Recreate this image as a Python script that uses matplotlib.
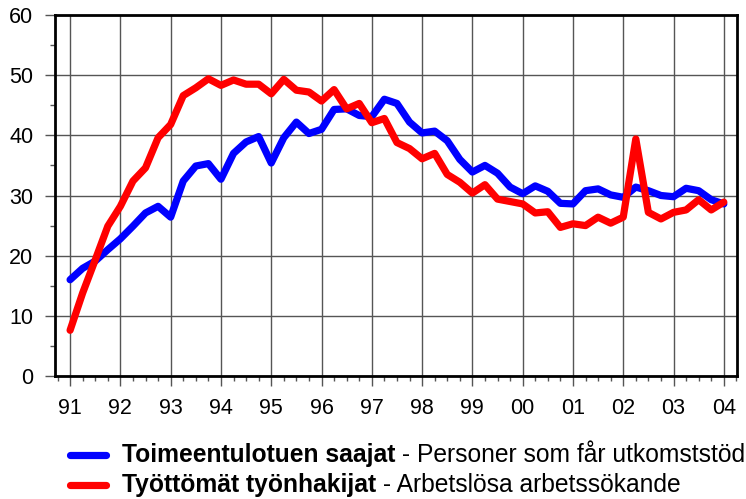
import matplotlib
matplotlib.use('Agg')
import matplotlib.pyplot as plt
from matplotlib import font_manager
from matplotlib.lines import Line2D
from matplotlib.ticker import MultipleLocator

# ---- data ----
year_labels = ['91', '92', '93', '94', '95', '96', '97', '98', '99', '00', '01', '02', '03', '04']
toimeentulotuen_saajat = [16.0, 17.9, 19.1, 21.0, 22.8, 24.9, 27.1, 28.2, 26.4, 32.4, 34.9, 35.3, 32.7,
                          37.0, 38.9, 39.8, 35.4, 39.6, 42.2, 40.3, 41.0, 44.3, 44.4, 43.3, 43.1, 46.0,
                          45.3, 42.2, 40.4, 40.7, 39.1, 36.0, 33.9, 35.0, 33.7, 31.4, 30.3, 31.6, 30.7,
                          28.7, 28.6, 30.8, 31.1, 30.1, 29.7, 31.4, 30.8, 30.0, 29.8, 31.2, 30.8, 29.3, 28.6]
tyottomat_tyonhakijat = [7.6, 13.8, 19.3, 24.9, 28.2, 32.4, 34.6, 39.6, 41.8, 46.6, 47.9, 49.4, 48.3,
                         49.2, 48.5, 48.5, 46.9, 49.3, 47.5, 47.2, 45.7, 47.6, 44.4, 45.3, 42.1, 42.8,
                         38.8, 37.8, 36.1, 37.0, 33.5, 32.2, 30.4, 31.8, 29.4, 29.0, 28.6, 27.1, 27.3,
                         24.7, 25.3, 25.0, 26.4, 25.4, 26.4, 39.4, 27.2, 26.1, 27.2, 27.6, 29.3, 27.6, 28.9]
series_bold = ['Toimeentulotuen saajat', 'Työttömät työnhakijat']
series_rest = [' - Personer som får utkomststöd', ' - Arbetslösa arbetssökande']
series_colors = ['#0000FF', '#FF0000']

names = {f.name for f in font_manager.fontManager.ttflist}
base_font = 'Liberation Sans' if 'Liberation Sans' in names else 'DejaVu Sans'
plt.rcParams['font.family'] = [base_font, 'DejaVu Sans']

fig = plt.figure(figsize=(7.46, 4.99), dpi=100)
ax = fig.add_axes([55 / 746, 1 - 376 / 499, (737 - 55) / 746, (376 - 15) / 499])

x = list(range(len(toimeentulotuen_saajat)))
ax.plot(x, tyottomat_tyonhakijat, color=series_colors[1], lw=5.2,
        solid_capstyle='round', solid_joinstyle='round', zorder=3)
ax.plot(x, toimeentulotuen_saajat, color=series_colors[0], lw=5.2,
        solid_capstyle='round', solid_joinstyle='round', zorder=2)

ax.set_xlim(-1.2, 53.05)
ax.set_ylim(0, 60)
ax.set_xticks(range(0, 4 * len(year_labels), 4))
ax.set_xticklabels(year_labels)
ax.xaxis.set_minor_locator(MultipleLocator(1))
ax.set_yticks(range(0, 61, 10))
ax.yaxis.set_minor_locator(MultipleLocator(5))

ax.grid(True, which='major', color='#555555', lw=1.0, zorder=1)
for s in ax.spines.values():
    s.set_linewidth(2.0)
    s.set_color('black')
    s.set_zorder(4)

ax.tick_params(axis='both', which='major', length=7.5, width=1.0, color='#555555',
               labelsize=15.5, pad=8)
ax.tick_params(axis='both', which='minor', length=3.8, width=1.0, color='#555555')

# legend (manual, mixed bold / regular)
renderer = fig.canvas.get_renderer()
rows_y = [455, 485]
for i in range(2):
    yf = 1 - rows_y[i] / 499
    fig.add_artist(Line2D([70 / 746, 106 / 746], [yf, yf], color=series_colors[i], lw=5.2,
                          solid_capstyle='round', transform=fig.transFigure))
    t = fig.text(122 / 746, yf, series_bold[i], fontsize=17.7, fontweight='bold',
                 va='center', ha='left')
    bb = t.get_window_extent(renderer=renderer)
    fig.text(bb.x1 / fig.bbox.width, yf, series_rest[i], fontsize=17.7,
             va='center', ha='left')

fig.savefig('out.png', dpi=100)
